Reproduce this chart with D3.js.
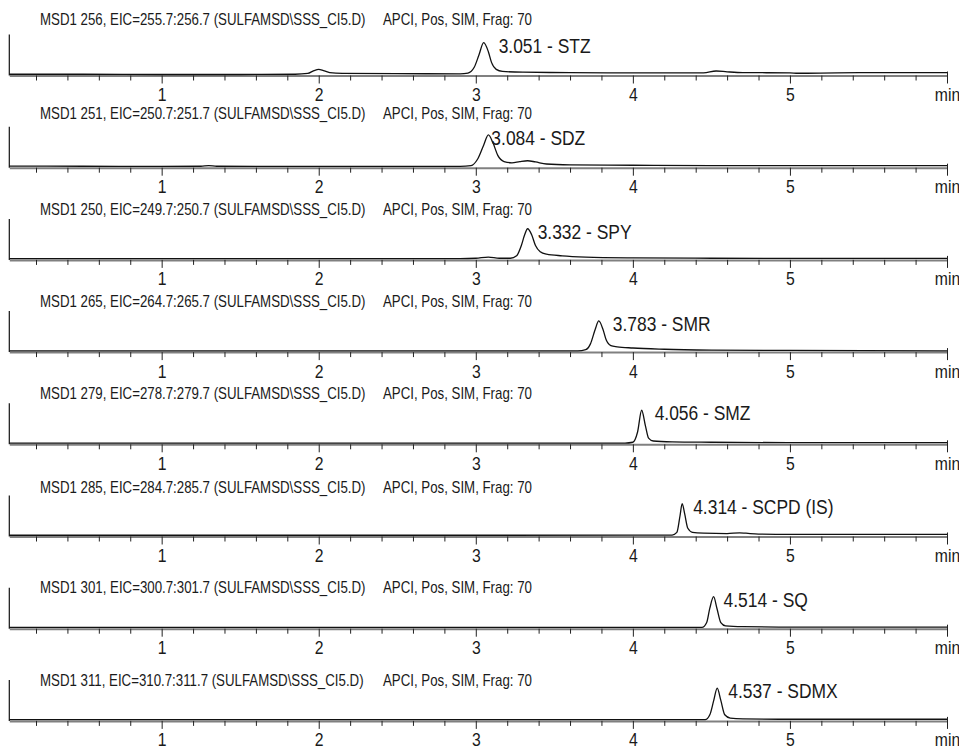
<!doctype html>
<html lang="en">
<head>
  <meta charset="UTF-8">
  <title>EIC chromatograms</title>
  <script src="https://cdn.jsdelivr.net/npm/d3@7"></script>
  <style>
    body { margin: 0; background: #fff; }
    text { font-family: "Liberation Sans", Arial, sans-serif; fill: #1a1a1a; }
    .axis path { stroke: #808080; stroke-width: 2; }
    .axis line { stroke: #222; }
    .trace { fill: none; stroke: #111; stroke-width: 1.3; }
  </style>
</head>
<body>
<svg width="959" height="750" id="chart"></svg>
<script>
  // header pieces for every ion channel
  var ions = [256, 251, 250, 265, 279, 285, 301, 311];
  var eicRanges = ['255.7:256.7', '250.7:251.7', '249.7:250.7', '264.7:265.7',
    '278.7:279.7', '284.7:285.7', '300.7:301.7', '310.7:311.7'];
  var method = 'APCI, Pos, SIM, Frag: 70';
  var peakLabels = ['3.051 - STZ', '3.084 - SDZ', '3.332 - SPY', '3.783 - SMR',
    '4.056 - SMZ', '4.314 - SCPD (IS)', '4.514 - SQ', '4.537 - SDMX'];

  // traces: [time (min), intensity in % of panel height]
  var traceSTZ = [[0.03, 3], [0.5, 3], [1.0, 2.5], [1.5, 2.5], [1.85, 3], [1.93, 5], [1.97, 12], [2.0, 15],
    [2.03, 12], [2.07, 7], [2.15, 5], [2.5, 4.5], [2.9, 4], [2.95, 6], [2.99, 20], [3.02, 50], [3.05, 80],
    [3.08, 58], [3.10, 32], [3.13, 15], [3.17, 10], [3.3, 8], [3.6, 7], [4.0, 6.5], [4.45, 6.5], [4.53, 11],
    [4.6, 9], [4.7, 7], [5.0, 6.5], [5.05, 5.5], [5.3, 6.5], [5.7, 7], [6.0, 7]];
  var traceSDZ = [[0.03, 4], [0.5, 3.5], [1.0, 3], [1.25, 3.5], [1.3, 5], [1.35, 3.5], [2.0, 3], [2.5, 3],
    [2.9, 3], [2.97, 5], [3.01, 20], [3.05, 55], [3.08, 80], [3.11, 60], [3.14, 30], [3.18, 15], [3.23, 12],
    [3.28, 15], [3.33, 17], [3.38, 14], [3.45, 9], [3.6, 7], [4.0, 6], [4.5, 5], [5.0, 5], [6.0, 5]];
  var traceSPY = [[0.03, 3], [1, 3], [2, 3], [2.9, 3], [3.0, 4], [3.08, 7], [3.15, 4], [3.22, 4], [3.26, 10],
    [3.29, 35], [3.31, 60], [3.33, 76], [3.355, 62], [3.38, 35], [3.41, 20], [3.45, 14], [3.55, 10], [3.7, 7],
    [4.0, 5], [4.5, 4], [5, 3.5], [6, 3.5]];
  var traceSMR = [[0.03, 3], [1, 3], [2, 3], [3, 3], [3.65, 3], [3.7, 6], [3.73, 20], [3.76, 55], [3.783, 76],
    [3.81, 55], [3.83, 30], [3.86, 16], [3.9, 13], [4.0, 10], [4.2, 7], [4.5, 5], [5, 4], [6, 3]];
  var traceSMZ = [[0.03, 3], [1, 3], [2, 3], [3, 3], [3.95, 3], [4.0, 5], [4.03, 30], [4.056, 83], [4.08, 45],
    [4.1, 15], [4.13, 8], [4.25, 6], [4.5, 5], [5, 4], [6, 4]];
  var traceSCPD = [[0.03, 3], [1, 3], [2, 3], [3, 3], [4, 3.5], [4.25, 3.5], [4.28, 10], [4.3, 50], [4.314, 80],
    [4.33, 55], [4.35, 20], [4.38, 10], [4.45, 8], [4.6, 7], [4.68, 9], [4.72, 8], [4.8, 6], [5, 5], [6, 5]];
  var traceSQ = [[0.03, 3], [1, 3], [2, 3], [3, 3], [4, 3], [4.44, 3], [4.47, 15], [4.49, 50], [4.514, 78],
    [4.535, 50], [4.56, 15], [4.59, 7], [4.7, 5], [5, 4], [6, 4]];
  var traceSDMX = [[0.03, 3], [1, 3], [2, 3], [3, 3], [4, 3], [4.46, 3], [4.49, 15], [4.515, 50], [4.537, 80],
    [4.56, 50], [4.585, 15], [4.62, 7], [4.7, 5], [5, 4], [6, 4]];
  var traces = [traceSTZ, traceSDZ, traceSPY, traceSMR, traceSMZ, traceSCPD, traceSQ, traceSDMX];

  var majorTicks = [1, 2, 3, 4, 5, 6];
  var minorTicks = [0.2, 0.4, 0.6, 0.8, 1.2, 1.4, 1.6, 1.8, 2.2, 2.4, 2.6, 2.8, 3.2, 3.4, 3.6, 3.8,
    4.2, 4.4, 4.6, 4.8, 5.2, 5.4, 5.6, 5.8];

  // layout
  var svg = d3.select('#chart'),
    panelGap = 92.2, firstAxis = 75.5, panelHeight = 41,
    narrow = 0.83, // horizontal squeeze to get a condensed face
    headerDy = [-57, -55, -51, -51, -51, -50, -42, -41],
    labelDx = [15, 3, 10, 14, 13, 11, 10, 11];

  var x = d3.scaleLinear().domain([0.03, 6]).range([9.3, 947]);
  var y = d3.scaleLinear().domain([0, 100]).range([panelHeight, 0]);
  var line = d3.line()
    .x(function (d) { return x(d[0]); })
    .y(function (d) { return y(d[1]); })
    .curve(d3.curveMonotoneX);

  function squeezed(sel, px, py) {
    return sel.attr('transform', 'translate(' + px + ',' + py + ') scale(' + narrow + ',1)');
  }

  svg.append('rect').attr('width', 959).attr('height', 750).attr('fill', '#fff');

  traces.forEach(function (trace, i) {
    var axisY = firstAxis + i * panelGap;
    var g = svg.append('g').attr('transform', 'translate(0,' + (axisY - panelHeight) + ')');

    // header
    var head = squeezed(g.append('text'), 40, panelHeight + headerDy[i] + 6)
      .attr('font-size', 16);
    head.append('tspan').attr('x', 0)
      .text('MSD1 ' + ions[i] + ', EIC=' + eicRanges[i] + ' (SULFAMSD\\SSS_CI5.D)');
    head.append('tspan').attr('x', (383 - 40) / narrow).text(method);

    // left axis line
    g.append('line')
      .attr('x1', x.range()[0]).attr('x2', x.range()[0])
      .attr('y1', 0).attr('y2', panelHeight)
      .attr('stroke', '#111').attr('stroke-width', 1.2);

    // time axis: minor then major ticks
    g.append('g').attr('class', 'axis')
      .attr('transform', 'translate(0,' + panelHeight + ')')
      .call(d3.axisBottom(x).tickValues(minorTicks).tickSize(5).tickSizeOuter(0).tickFormat(''));
    var major = g.append('g').attr('class', 'axis')
      .attr('transform', 'translate(0,' + panelHeight + ')')
      .call(d3.axisBottom(x).tickValues(majorTicks).tickSize(8).tickSizeOuter(0).tickPadding(4)
        .tickFormat(function (d) { return d === 6 ? 'min' : d; }));
    major.select('.domain').remove();
    major.selectAll('text')
      .attr('font-size', 19).attr('fill', '#1a1a1a')
      .attr('font-family', '"Liberation Sans", Arial, sans-serif')
      .attr('transform', 'scale(' + narrow + ',1)');
    major.selectAll('.tick').filter(function (d) { return d === 6; })
      .select('line').attr('y1', -4);

    // trace
    g.append('path').datum(trace).attr('class', 'trace').attr('d', line);

    // peak label next to the apex
    var apex = trace.reduce(function (a, b) { return b[1] > a[1] ? b : a; });
    squeezed(g.append('text'), x(apex[0]) + labelDx[i], y(apex[1]) + 10)
      .attr('font-size', 21)
      .text(peakLabels[i]);
  });
</script>
</body>
</html>
